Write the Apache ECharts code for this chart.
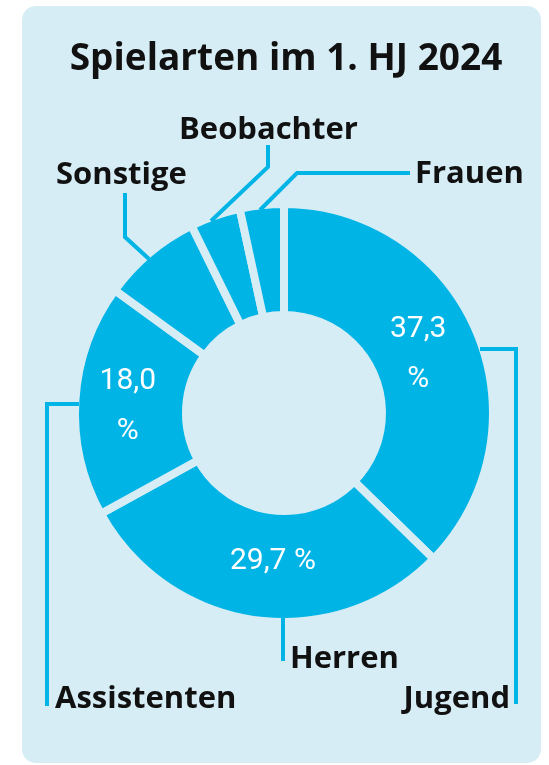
<!DOCTYPE html>
<html>
<head>
<meta charset="utf-8">
<script src="https://cdn.jsdelivr.net/npm/echarts@6/dist/echarts.min.js"></script>
<style>
  html, body { margin: 0; padding: 0; background: #ffffff; }
  #panel { position: absolute; left: 22px; top: 6px; width: 519px; height: 757px; background: #d6edf6; border-radius: 14px; }
  #chart { position: absolute; left: 0; top: 0; width: 549px; height: 765px; }
</style>
</head>
<body>
<div id="panel"></div>
<div id="chart"></div>
<script>
// Data
const categories = ['Jugend', 'Herren', 'Assistenten', 'Sonstige', 'Beobachter', 'Frauen'];
const shares = [37.3, 29.7, 18.0, 7.7, 3.9, 3.4];
const insideLabels = ['37,3\n%', '29,7 %', '18,0\n%', '', '', ''];
const titleText = 'Spielarten im 1. HJ 2024';

const BG = '#d6edf6';
const CYAN = '#00b4e6';
const FONT_BOLD = '"Open Sans", "Noto Sans", sans-serif';
const FONT_LIGHT = 'Roboto, "Open Sans", sans-serif';

// Label placement (annotation styling)
const innerOffsets = [[-10, 2], [10, -7], [0, 3], [0, 0], [0, 0], [0, 0]];
const outerLayout = [
  { x: 510, y: 699, align: 'right', pts: [[480, 349], [516, 349], [516, 704]] },
  { x: 290, y: 659, align: 'left',  pts: [[283, 617], [283, 638], [283, 661]] },
  { x: 55,  y: 699, align: 'left',  pts: [[79, 404], [47, 404], [47, 706]] },
  { x: 56,  y: 175, align: 'left',  pts: [[149, 259], [125, 237], [125, 193]] },
  { x: 179, y: 130, align: 'left',  pts: [[211, 221], [268, 167], [268, 145]] },
  { x: 415, y: 174, align: 'left',  pts: [[260, 210], [297, 173], [410, 173]] }
];

const chart = echarts.init(document.getElementById('chart'), null, { renderer: 'canvas' });

const pieData = categories.map((c, i) => ({ name: c, value: shares[i] }));

chart.setOption({
  backgroundColor: 'transparent',
  animation: false,
  title: {
    text: titleText,
    left: 281,
    textAlign: 'center',
    top: 36,
    textStyle: { fontFamily: FONT_BOLD, fontWeight: 'bold', fontSize: 37, color: '#111111' }
  },
  series: [
    {
      type: 'pie',
      center: [284, 413],
      radius: [98, 209],
      startAngle: 90,
      clockwise: true,
      silent: true,
      avoidLabelOverlap: false,
      data: pieData,
      itemStyle: { color: CYAN, borderColor: BG, borderWidth: 8 },
      label: {
        show: true,
        position: 'inside',
        formatter: p => insideLabels[p.dataIndex],
        color: '#ffffff',
        fontFamily: FONT_LIGHT,
        fontWeight: 'normal',
        fontSize: 30,
        lineHeight: 50,
        align: 'center'
      },
      labelLine: { show: false },
      labelLayout: function (params) {
        const o = innerOffsets[params.dataIndex];
        return { dx: o[0], dy: o[1] };
      }
    },
    {
      type: 'pie',
      center: [284, 413],
      radius: [98, 209],
      startAngle: 90,
      clockwise: true,
      silent: true,
      avoidLabelOverlap: false,
      z: 5,
      data: pieData,
      itemStyle: { color: 'rgba(0,0,0,0)', borderWidth: 0 },
      label: {
        show: true,
        position: 'outside',
        formatter: '{b}',
        overflow: 'none',
        width: 300,
        color: '#111111',
        fontFamily: FONT_BOLD,
        fontWeight: 'bold',
        fontSize: 31
      },
      labelLine: {
        show: true,
        smooth: false,
        lineStyle: { color: CYAN, width: 4 }
      },
      labelLayout: function (params) {
        const l = outerLayout[params.dataIndex];
        return {
          x: l.x,
          y: l.y,
          align: l.align,
          verticalAlign: 'middle',
          hideOverlap: false,
          labelLinePoints: l.pts
        };
      }
    }
  ]
});
</script>
</body>
</html>
